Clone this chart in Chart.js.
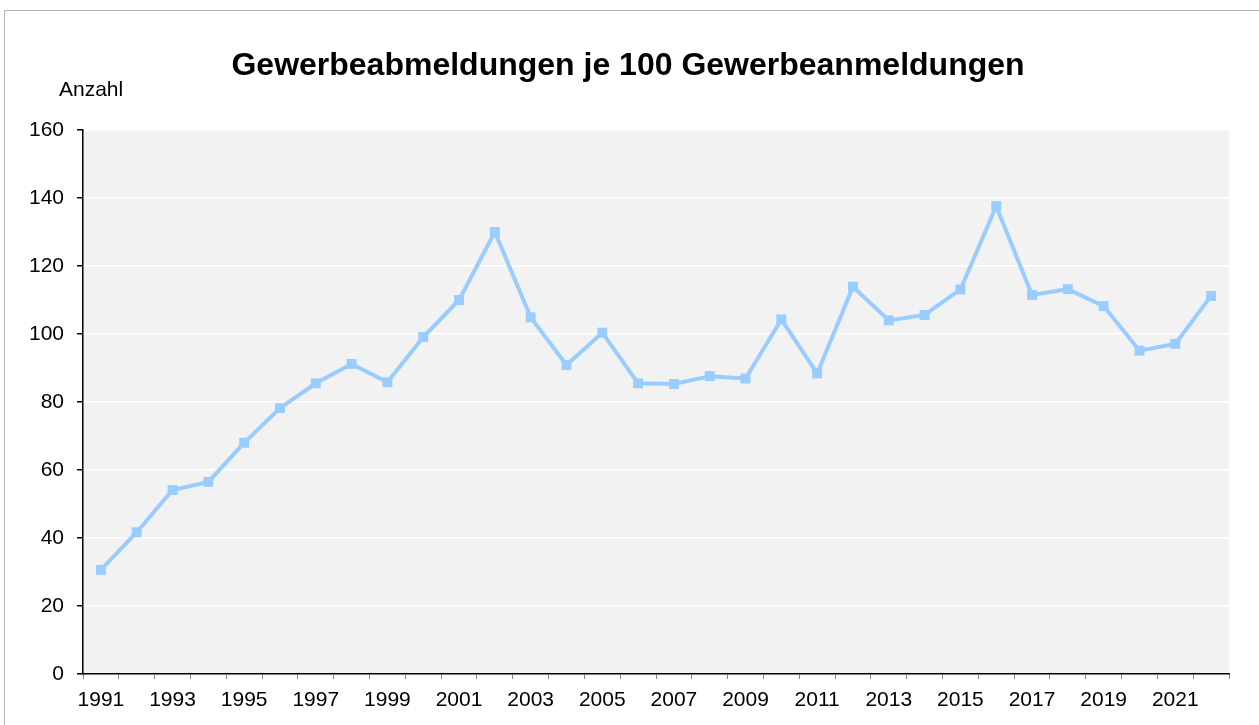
<!DOCTYPE html>
<html>
<head>
<meta charset="utf-8">
<script src="https://cdn.jsdelivr.net/npm/chart.js@4.4.0/dist/chart.umd.min.js"></script>
<style>
  html, body { margin: 0; padding: 0; background: #fff; }
  #wrap { position: relative; width: 1259px; height: 725px; }
  #frame { position: absolute; left: 4px; top: 10px; width: 1300px; height: 800px; border: 1px solid #b4b4b4; }
  canvas { position: absolute; left: 0; top: 0; }
</style>
</head>
<body>
<div id="wrap">
  <div id="frame"></div>
  <canvas id="chart" width="1259" height="725"></canvas>
</div>
<script>
const years = [1991, 1992, 1993, 1994, 1995, 1996, 1997, 1998, 1999, 2000,
               2001, 2002, 2003, 2004, 2005, 2006, 2007, 2008, 2009, 2010,
               2011, 2012, 2013, 2014, 2015, 2016, 2017, 2018, 2019, 2020,
               2021, 2022]
const abmeldungenJe100 = [30.6, 41.7, 54.1, 56.5, 68.0, 78.2, 85.5, 91.2, 85.8, 99.1,
                          110.0, 130.0, 104.9, 90.9, 100.4, 85.5, 85.3, 87.6, 86.9, 104.3,
                          88.4, 113.9, 104.0, 105.6, 113.1, 137.6, 111.5, 113.2, 108.2, 95.1,
                          97.1, 111.2]
const yTicks = [0, 20, 40, 60, 80, 100, 120, 140, 160]

const FONT = "'Liberation Sans', Arial, sans-serif"
const TITLE = 'Gewerbeabmeldungen je 100 Gewerbeanmeldungen'

// grey plot area behind the line
const plotBackground = {
    id: 'plotBackground',
    beforeDraw(chart) {
        const { ctx, chartArea: a } = chart
        ctx.save()
        ctx.fillStyle = '#f2f2f2'
        ctx.fillRect(a.left, a.top, a.right - a.left, a.bottom - a.top)
        ctx.restore()
    }
}

// title centred on the whole picture, unit label above the y axis
const headings = {
    id: 'headings',
    afterDraw(chart) {
        const ctx = chart.ctx
        ctx.save()
        ctx.fillStyle = '#000'
        ctx.textBaseline = 'middle'
        ctx.textAlign = 'center'
        ctx.font = 'bold 32px ' + FONT
        ctx.fillText(TITLE, 628, 66)
        ctx.textAlign = 'left'
        ctx.font = '21px ' + FONT
        ctx.fillText('Anzahl', 59, 90)
        ctx.restore()
    }
}

new Chart(document.getElementById('chart'), {
    type: 'line',
    data: {
        labels: years.map(String),
        datasets: [{
            label: TITLE,
            data: abmeldungenJe100,
            borderColor: '#99ccff',
            backgroundColor: '#99ccff',
            borderWidth: 4,
            pointStyle: 'rect',
            pointRadius: 7,
            pointBorderWidth: 0,
            tension: 0
        }]
    },
    options: {
        responsive: false,
        animation: false,
        layout: { padding: { left: 0, right: 30, top: 130, bottom: 0 } },
        plugins: {
            legend: { display: false },
            tooltip: { enabled: false },
            title: { display: false }
        },
        scales: {
            x: {
                offset: true,
                grid: {
                    offset: true,
                    drawOnChartArea: false,
                    tickColor: '#888',
                    tickLength: 5
                },
                border: { color: '#000', width: 1.5 },
                ticks: {
                    autoSkip: false,
                    maxRotation: 0,
                    color: '#000',
                    padding: 9,
                    font: { family: FONT, size: 21 },
                    callback: (v, i) => i % 2 === 0 ? years[i] : ''
                },
                afterFit: s => { s.height = 51 }
            },
            y: {
                min: 0,
                max: 160,
                afterBuildTicks: s => { s.ticks = yTicks.map(v => ({ value: v })) },
                grid: {
                    color: '#ffffff',
                    lineWidth: 1.5,
                    tickColor: '#000',
                    tickLength: 6
                },
                border: { color: '#000', width: 1.5 },
                ticks: {
                    color: '#000',
                    padding: 13,
                    font: { family: FONT, size: 21 }
                },
                afterFit: s => { s.width = 83 }
            }
        }
    },
    plugins: [plotBackground, headings]
})
</script>
</body>
</html>
